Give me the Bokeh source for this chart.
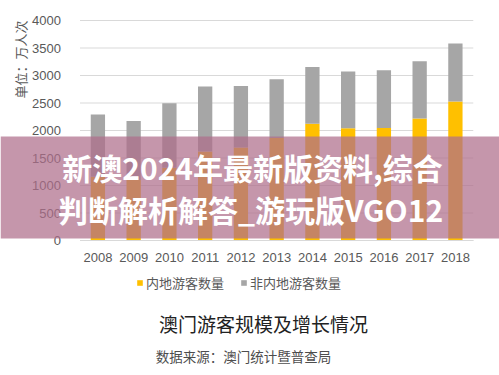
from bokeh.plotting import figure
from bokeh.models import (ColumnDataSource, Label, BoxAnnotation, Legend, LegendItem,
                          FixedTicker, Range1d)
from bokeh.embed import file_html
from bokeh.resources import INLINE
import math

years = ["2008", "2009", "2010", "2011", "2012", "2013", "2014", "2015", "2016", "2017", "2018"]
mainland = [1161, 1099, 1323, 1616, 1690, 1863, 2125, 2041, 2045, 2220, 2526]
non_mainland = [1132, 1076, 1174, 1184, 1118, 1069, 1028, 1030, 1050, 1041, 1054]
series_names = ["内地游客数量", "非内地游客数量"]
y_ticks = [0, 500, 1000, 1500, 2000, 2500, 3000, 3500, 4000]

title_text = "澳门游客规模及增长情况"
source_text = "数据来源：澳门统计暨普查局"
unit_text = "单位：万人次"
overlay_lines = ["新澳2024年最新版资料,综合", "判断解析解答_游玩版VGO12"]

W, H = 499, 375
# layout: pixel position of category index 0, pixels per category, y pixel of 0 and 4000
X0PX, XSTEP = 97.4, 35.75
Y0PX, YTOPPX, YTOPVAL = 240.0, 20.0, 4000.0
ypx_per = (Y0PX - YTOPPX) / YTOPVAL

idx = list(range(len(years)))
src = ColumnDataSource(dict(x=idx, mainland=mainland, non_mainland=non_mainland))

x_range = Range1d(-X0PX / XSTEP, (W - X0PX) / XSTEP)
y_range = Range1d(-(H - Y0PX) / ypx_per, YTOPVAL + YTOPPX / ypx_per)

p = figure(x_range=x_range, y_range=y_range, width=W, height=H,
           output_backend="svg", toolbar_location=None,
           min_border=0, min_border_left=0, min_border_right=0,
           min_border_top=0, min_border_bottom=0)
p.outline_line_color = None
p.background_fill_color = "white"
p.border_fill_color = "white"
p.xgrid.grid_line_color = None
p.ygrid.grid_line_color = None

left_edge = -0.5
right_edge = len(years) - 0.5

# horizontal gridlines spanning the category area only
p.segment(x0=[left_edge] * len(y_ticks), x1=[right_edge] * len(y_ticks),
          y0=y_ticks, y1=y_ticks, line_color="#d9d9d9", line_width=1)

r = p.vbar_stack(["mainland", "non_mainland"], x="x", width=0.4, source=src,
                 color=["#ffc000", "#a6a6a6"], line_color=None)

yax = p.yaxis[0]
yax.fixed_location = left_edge
yax.bounds = (0, 4000)
yax.ticker = FixedTicker(ticks=y_ticks)
yax.axis_line_color = None
yax.major_tick_line_color = None
yax.minor_tick_line_color = None
yax.major_label_standoff = 13
yax.major_label_text_font = "Liberation Sans"
yax.major_label_text_font_size = "13px"
yax.major_label_text_color = "#595959"

xax = p.xaxis[0]
xax.fixed_location = 0
xax.bounds = (left_edge, right_edge)
xax.ticker = FixedTicker(ticks=idx)
xax.major_label_overrides = {i: y for i, y in zip(idx, years)}
xax.axis_line_color = "#d9d9d9"
xax.major_tick_line_color = None
xax.minor_tick_line_color = None
xax.major_label_standoff = 6
xax.major_label_text_font = "Liberation Sans"
xax.major_label_text_font_size = "13px"
xax.major_label_text_color = "#595959"

legend = Legend(items=[LegendItem(label=series_names[0], renderers=[r[0]]),
                       LegendItem(label=series_names[1], renderers=[r[1]])],
                orientation="horizontal", location=(136, H - 292),
                glyph_width=7, glyph_height=7, label_standoff=3, spacing=16,
                padding=0, margin=0, border_line_color=None,
                background_fill_alpha=0,
                label_text_font="Noto Sans CJK SC", label_text_font_size="13px",
                label_text_color="#595959")
p.add_layout(legend)

band = BoxAnnotation(left=0, right=W, top=H - 136, bottom=H - 238,
                     left_units="screen", right_units="screen",
                     top_units="screen", bottom_units="screen",
                     fill_color="#ae6e8a", fill_alpha=0.72, line_color=None)
p.add_layout(band)


def add_label(text, fx, fy, size, color, bold=False, angle=0.0):
    p.add_layout(Label(x=fx, y=H - fy, x_units="screen", y_units="screen", text=text,
                       angle=angle, text_align="center", text_baseline="middle",
                       text_font_style="bold" if bold else "normal",
                       text_font="Noto Sans CJK SC", text_font_size=size, text_color=color))


add_label(unit_text, 20, 59, "13px", "#595959", angle=math.pi / 2)
add_label(title_text, 263, 323, "19px", "#222222")
add_label(source_text, 243, 355, "13.5px", "#4d4d4d")
add_label(overlay_lines[0], 252, 166, "30px", "white", bold=True)
add_label(overlay_lines[1], 250, 208, "30px", "white", bold=True)

open("out.html", "w").write(file_html(p, INLINE))
